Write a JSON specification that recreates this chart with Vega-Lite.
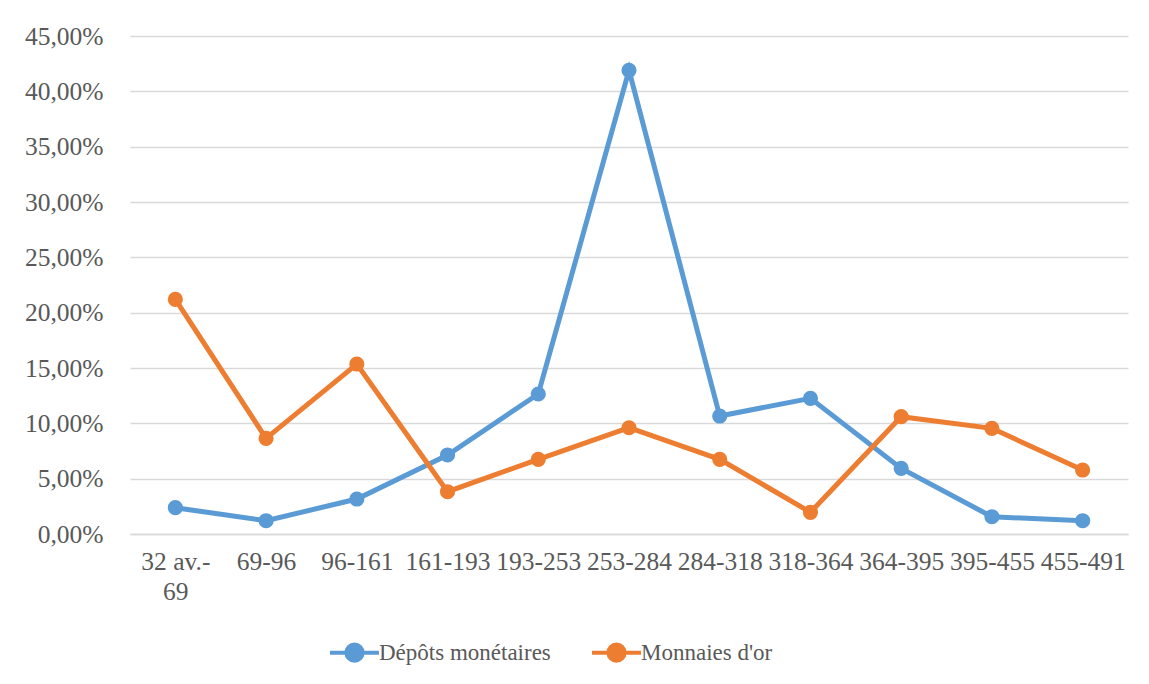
{
  "$schema": "https://vega.github.io/schema/vega-lite/v6.json",
  "width": 998,
  "height": 498,
  "autosize": "none",
  "padding": {"left": 130, "top": 36, "right": 21, "bottom": 150},
  "background": "white",
  "config": {
    "font": "Liberation Serif",
    "axis": {"labelFont": "Liberation Serif"},
    "legend": {"labelFont": "Liberation Serif"},
    "view": {"stroke": null}
  },
  "data": {
    "values": [
      {"period": "32 av.-69", "series": "Dépôts monétaires", "value": 2.38},
      {"period": "69-96", "series": "Dépôts monétaires", "value": 1.2},
      {"period": "96-161", "series": "Dépôts monétaires", "value": 3.16},
      {"period": "161-193", "series": "Dépôts monétaires", "value": 7.14},
      {"period": "193-253", "series": "Dépôts monétaires", "value": 12.65},
      {"period": "253-284", "series": "Dépôts monétaires", "value": 41.9},
      {"period": "284-318", "series": "Dépôts monétaires", "value": 10.66},
      {"period": "318-364", "series": "Dépôts monétaires", "value": 12.26},
      {"period": "364-395", "series": "Dépôts monétaires", "value": 5.93},
      {"period": "395-455", "series": "Dépôts monétaires", "value": 1.56},
      {"period": "455-491", "series": "Dépôts monétaires", "value": 1.2},
      {"period": "32 av.-69", "series": "Monnaies d'or", "value": 21.2},
      {"period": "69-96", "series": "Monnaies d'or", "value": 8.64},
      {"period": "96-161", "series": "Monnaies d'or", "value": 15.36},
      {"period": "161-193", "series": "Monnaies d'or", "value": 3.82},
      {"period": "193-253", "series": "Monnaies d'or", "value": 6.75},
      {"period": "253-284", "series": "Monnaies d'or", "value": 9.6},
      {"period": "284-318", "series": "Monnaies d'or", "value": 6.75},
      {"period": "318-364", "series": "Monnaies d'or", "value": 1.96},
      {"period": "364-395", "series": "Monnaies d'or", "value": 10.6},
      {"period": "395-455", "series": "Monnaies d'or", "value": 9.55},
      {"period": "455-491", "series": "Monnaies d'or", "value": 5.78}
    ]
  },
  "mark": {
    "type": "line",
    "strokeWidth": 5,
    "point": {"filled": true, "size": 230, "opacity": 1}
  },
  "encoding": {
    "x": {
      "field": "period",
      "type": "nominal",
      "sort": null,
      "scale": {"paddingInner": 0, "paddingOuter": 0},
      "axis": {
        "title": null,
        "labelAngle": 0,
        "labelOverlap": false,
        "labelFontSize": 25.5,
        "labelColor": "#595959",
        "labelPadding": 15,
        "labelLineHeight": 30,
        "labelBound": false,
        "labelFlush": false,
        "labelLimit": 0,
        "ticks": false,
        "domain": true,
        "domainColor": "#d9d9d9",
        "domainWidth": 1.5,
        "grid": false,
        "labelExpr": "datum.label == '32 av.-69' ? ['32 av.-', '69'] : datum.label"
      }
    },
    "y": {
      "field": "value",
      "type": "quantitative",
      "scale": {"domain": [0, 45], "nice": false, "zero": true},
      "axis": {
        "title": null,
        "values": [0, 5, 10, 15, 20, 25, 30, 35, 40, 45],
        "labelFontSize": 25.5,
        "labelColor": "#595959",
        "labelPadding": 27,
        "ticks": false,
        "domain": false,
        "grid": true,
        "gridColor": "#d9d9d9",
        "gridWidth": 1.5,
        "labelExpr": "replace(format(datum.value, '.2f'), '.', ',') + '%'"
      }
    },
    "color": {
      "field": "series",
      "type": "nominal",
      "scale": {
        "domain": ["Dépôts monétaires", "Monnaies d'or"],
        "range": ["#5B9BD5", "#ED7D31"]
      },
      "legend": {
        "title": null,
        "orient": "none",
        "direction": "horizontal",
        "legendX": 198,
        "legendY": 590,
        "labelFontSize": 23,
        "labelColor": "#595959",
        "labelLimit": 0,
        "labelOffset": -2,
        "columnPadding": 33,
        "symbolSize": 2401,
        "symbolType": "M-1,0H1M0.33,0A0.33,0.33,0,1,1,-0.33,0A0.33,0.33,0,1,1,0.33,0Z",
        "symbolStrokeWidth": 4,
        "encode": {
          "symbols": {
            "update": {
              "fill": {"scale": "color", "field": "value"},
              "stroke": {"scale": "color", "field": "value"},
              "opacity": {"value": 1},
              "fillOpacity": {"value": 1}
            }
          }
        }
      }
    }
  }
}
